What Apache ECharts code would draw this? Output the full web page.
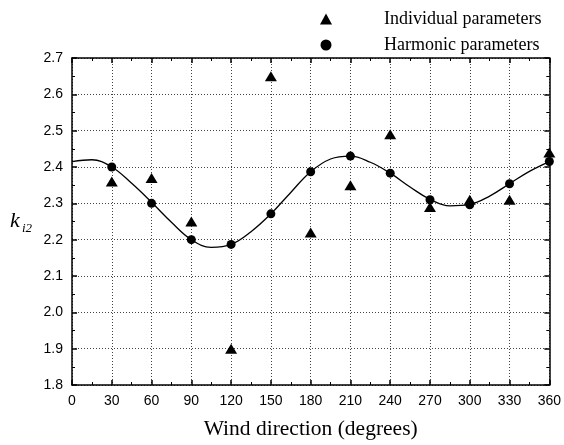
<!DOCTYPE html>
<html>
<head>
<meta charset="utf-8">
<script src="https://cdn.jsdelivr.net/npm/echarts@6/dist/echarts.min.js"></script>
<style>
  html, body { margin: 0; padding: 0; background: #fff; }
  #chart { width: 564px; height: 445px; }
</style>
</head>
<body>
<div id="chart"></div>
<script>
// Wind direction (degrees) at which the parameters were estimated
var directions = [30, 60, 90, 120, 150, 180, 210, 240, 270, 300, 330, 360];
// k_i2 estimated separately for each sector
var individual = [2.36, 2.37, 2.25, 1.90, 2.65, 2.22, 2.35, 2.49, 2.29, 2.31, 2.31, 2.44];
// k_i2 from the harmonic model at the same sectors
var harmonic = [2.40, 2.30, 2.20, 2.187, 2.271, 2.387, 2.43, 2.383, 2.31, 2.296, 2.354, 2.415];
// Harmonic curve sampled every 15 degrees
var curveDirections = [0, 15, 30, 45, 60, 75, 90, 105, 120, 135, 150, 165, 180,
                       195, 210, 225, 240, 255, 270, 285, 300, 315, 330, 345, 360];
var curveValues = [2.415, 2.420, 2.400, 2.355, 2.303, 2.248, 2.200, 2.179, 2.187, 2.222, 2.271, 2.330, 2.387,
                   2.422, 2.430, 2.413, 2.383, 2.345, 2.311, 2.293, 2.297, 2.320, 2.354, 2.388, 2.415];
// Axis tick values
var xTicks = [0, 30, 60, 90, 120, 150, 180, 210, 240, 270, 300, 330, 360];
var yTicks = [1.8, 1.9, 2.0, 2.1, 2.2, 2.3, 2.4, 2.5, 2.6, 2.7];

function pairs(xs, ys) { return xs.map(function (x, i) { return [x, ys[i]]; }); }

var chart = echarts.init(document.getElementById('chart'), null, { renderer: 'canvas' });

var sans = 'Liberation Sans, Arial, sans-serif';
var serif = 'Liberation Serif, Times New Roman, serif';
var gridLine = { show: true, lineStyle: { color: '#444', type: [1, 2], width: 1 } };

var xStep = xTicks[1] - xTicks[0];
var yStep = 0.1;

var baseX = {
  type: 'value', min: xTicks[0], max: xTicks[xTicks.length - 1], interval: xStep,
  axisLine: { show: true, onZero: false, lineStyle: { color: '#000', width: 1.5 } },
  axisTick: { show: true, inside: true, length: 5, lineStyle: { color: '#000', width: 1.5 } },
  minorTick: { show: true, splitNumber: 2, length: 3, lineStyle: { color: '#000' } }
};
var baseY = {
  type: 'value', min: yTicks[0], max: yTicks[yTicks.length - 1], interval: yStep,
  axisLine: { show: true, onZero: false, lineStyle: { color: '#000', width: 1.5 } },
  axisTick: { show: true, inside: true, length: 5, lineStyle: { color: '#000', width: 1.5 } },
  minorTick: { show: true, splitNumber: 2, length: 3, lineStyle: { color: '#000' } }
};

var option = {
  animation: false,
  backgroundColor: '#fff',
  grid: { left: 72, right: 12, top: 58, bottom: 58 },
  legend: {
    orient: 'vertical', left: 315, top: 5, itemGap: 8,
    itemWidth: 12, itemHeight: 11,
    textStyle: { fontFamily: serif, fontSize: 18, color: '#000', padding: [0, 0, 0, 47] },
    data: [
      { name: 'Individual parameters', icon: 'triangle' },
      { name: 'Harmonic parameters', icon: 'circle' }
    ]
  },
  xAxis: [
    Object.assign({}, baseX, {
      position: 'bottom',
      name: 'Wind direction (degrees)', nameLocation: 'middle', nameGap: 33,
      nameTextStyle: { fontFamily: serif, fontSize: 21.5, color: '#000' },
      axisLabel: { show: true, margin: 9, fontFamily: sans, fontSize: 14, color: '#000' },
      splitLine: gridLine
    }),
    Object.assign({}, baseX, {
      position: 'top',
      axisLabel: { show: false }, splitLine: { show: false }
    })
  ],
  yAxis: [
    Object.assign({}, baseY, {
      position: 'left',
      name: '{k|k}{s|i2}', nameLocation: 'middle', nameRotate: 0, nameGap: 40,
      nameTextStyle: {
        rich: {
          k: { fontFamily: serif, fontStyle: 'italic', fontSize: 22, color: '#000' },
          s: { fontFamily: serif, fontStyle: 'italic', fontSize: 13, color: '#000', padding: [14, 0, 0, 2] }
        }
      },
      axisLabel: {
        show: true, margin: 9, fontFamily: sans, fontSize: 14, color: '#000',
        formatter: function (v) { return v.toFixed(1); }
      },
      splitLine: gridLine
    }),
    Object.assign({}, baseY, {
      position: 'right',
      axisLabel: { show: false }, splitLine: { show: false }
    })
  ],
  series: [
    {
      name: 'Harmonic curve', type: 'line', xAxisIndex: 0, yAxisIndex: 0,
      data: pairs(curveDirections, curveValues),
      smooth: 0.4, showSymbol: false, symbol: 'none',
      lineStyle: { color: '#000', width: 1.3 }, z: 2
    },
    {
      name: 'Individual parameters', type: 'scatter', xAxisIndex: 0, yAxisIndex: 0,
      data: pairs(directions, individual),
      symbol: 'triangle', symbolSize: [12, 10],
      itemStyle: { color: '#000', opacity: 1 }, z: 3
    },
    {
      name: 'Harmonic parameters', type: 'scatter', xAxisIndex: 0, yAxisIndex: 0,
      data: pairs(directions, harmonic),
      symbol: 'circle', symbolSize: 9,
      itemStyle: { color: '#000', opacity: 1 }, z: 4
    }
  ]
};

chart.setOption(option);
</script>
</body>
</html>
